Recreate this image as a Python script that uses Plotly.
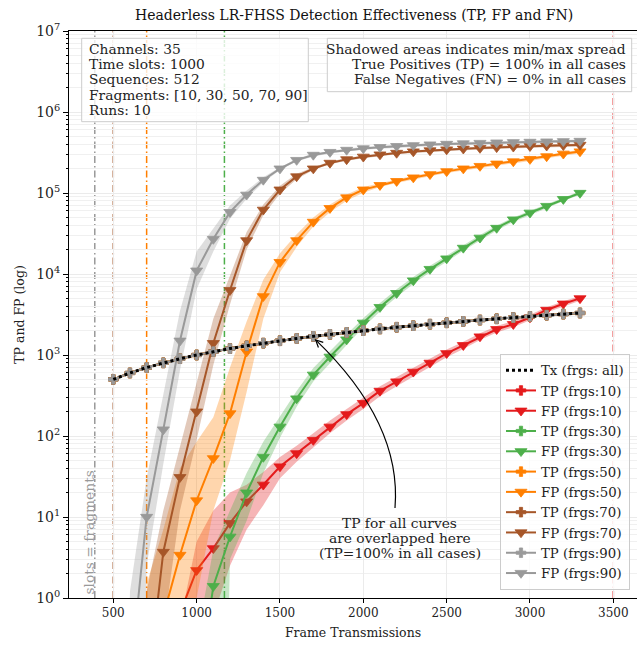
import math
import plotly.graph_objects as go

# ---------------- data ----------------
channels = 35
time_slots = 1000
fragments = [10, 30, 50, 70, 90]

frames = [500, 600, 700, 800, 900, 1000, 1100, 1200, 1300, 1400, 1500, 1600, 1700, 1800, 1900,
          2000, 2100, 2200, 2300, 2400, 2500, 2600, 2700, 2800, 2900, 3000, 3100, 3200, 3300]

# transmitted frames (Tx) == true positives for every fragment count (TP = 100 %)
tx = [500, 600, 700, 800, 900, 1000, 1100, 1200, 1300, 1400, 1500, 1600, 1700, 1800, 1900,
      2000, 2100, 2200, 2300, 2400, 2500, 2600, 2700, 2800, 2900, 3000, 3100, 3200, 3300]

N = None
fp_10 = [N, N, N, N, 0.65, 2.2, 4.1, 8.4, 15.5, 25, 42, 61, 89, 130, 185, 255, 360, 470, 620, 800,
         1050, 1320, 1690, 2080, 2400, 2900, 3600, 4300, 5000]
fp_10_lo = [N, N, N, N, 1e-9, 1e-9, 0.6, 2.5, 7, 14, 30, 48, 72, 108, 155, 215, 310, 410, 545, 710,
            940, 1190, 1530, 1900, 2200, 2680, 3350, 4000, 4680]
fp_10_hi = [N, N, N, N, 0.5, 5, 12, 20, 25, 36, 55, 76, 108, 155, 215, 295, 410, 535, 700, 900,
            1170, 1460, 1860, 2280, 2620, 3150, 3880, 4620, 5350]

fp_30 = [N, N, N, N, N, 0.05, 1.4, 5.7, 20, 55, 130, 290, 570, 950, 1550, 2500, 3900, 5800, 8300,
         11500, 15500, 21000, 28000, 37000, 47000, 57000, 69000, 84000, 100000]
fp_30_lo = [N, N, N, N, N, 1e-9, 1e-9, 3, 9, 35, 95, 230, 470, 800, 1330, 2200, 3450, 5200, 7500,
            10500, 14200, 19400, 26000, 34500, 44000, 53500, 65000, 79500, 95000]
fp_30_hi = [N, N, N, N, N, 0.3, 4, 12, 35, 85, 175, 360, 690, 1130, 1800, 2850, 4400, 6500, 9200,
            12600, 16900, 22700, 30200, 39600, 50000, 60500, 73000, 88500, 105000]

fp_50 = [N, N, N, 0.6, 3.4, 16, 53, 190, 1100, 5300, 14000, 26000, 44000, 65000, 88000, 110000,
         125000, 140000, 155000, 170000, 185000, 200000, 215000, 230000, 245000, 262000, 283000,
         305000, 325000]
fp_50_lo = [N, 1e-9, 1e-9, 1e-9, 1e-9, 1, 12, 50, 350, 2800, 10500, 21500, 38500, 58000, 80000, 101000,
            119000, 133000, 147000, 161000, 176000, 190000, 204000, 218000, 233000, 249000, 269000,
            290000, 309000]
fp_50_hi = [N, 1e-9, 1.5, 7, 40, 85, 170, 700, 2600, 8500, 18000, 31000, 50000, 72000, 96000, 119000,
            131000, 147000, 163000, 179000, 194000, 210000, 226000, 242000, 257000, 275000, 297000,
            320000, 341000]

fp_70 = [N, N, 0.06, 3.7, 31, 200, 1400, 6300, 26000, 62000, 110000, 160000, 200000, 235000, 260000,
         280000, 298000, 312000, 325000, 335000, 344000, 352000, 359000, 366000, 372000, 378000,
         383000, 388000, 392000]
fp_70_lo = [N, 1e-9, 1e-9, 0.4, 12, 90, 750, 4200, 20000, 53000, 98000, 148000, 192000, 226000, 250000,
            269000, 286000, 300000, 312000, 322000, 330000, 338000, 345000, 351000, 357000, 363000,
            368000, 372000, 376000]
fp_70_hi = [N, 1e-9, 1.2, 12, 75, 450, 2800, 9500, 33000, 72000, 123000, 173000, 208000, 244000, 270000,
            291000, 310000, 324000, 338000, 348000, 358000, 366000, 373000, 381000, 387000, 393000,
            398000, 404000, 408000]

fp_90 = [N, 0.1, 10, 120, 1500, 11000, 27000, 58000, 95000, 145000, 200000, 255000, 295000, 320000,
         340000, 355000, 368000, 379000, 388000, 396000, 403000, 409000, 414000, 419000, 423000,
         427000, 431000, 435000, 439000]
fp_90_lo = [1e-9, 1e-9, 2.5, 45, 650, 6500, 19000, 48000, 85000, 135000, 192000, 245000, 283000, 307000,
            326000, 341000, 353000, 364000, 373000, 380000, 387000, 393000, 397000, 402000, 406000,
            410000, 414000, 418000, 421000]
fp_90_hi = [1e-9, 1.2, 30, 320, 3500, 19000, 36000, 70000, 107000, 156000, 208000, 265000, 307000, 333000,
            354000, 369000, 383000, 394000, 403000, 412000, 419000, 425000, 431000, 436000, 440000,
            444000, 448000, 452000, 457000]

colors = ['#e41a1c', '#4daf4a', '#ff7f00', '#a65628', '#999999']
fp_series = [fp_10, fp_30, fp_50, fp_70, fp_90]
lo_series = [fp_10_lo, fp_30_lo, fp_50_lo, fp_70_lo, fp_90_lo]
hi_series = [fp_10_hi, fp_30_hi, fp_50_hi, fp_70_hi, fp_90_hi]

info_lines = ["Channels: 35", "Time slots: 1000", "Sequences: 512",
              "Fragments: [10, 30, 50, 70, 90]", "Runs: 10"]
note_lines = ["Shadowed areas indicates min/max spread",
              "True Positives (TP) = 100% in all cases",
              "False Negatives (FN) = 0% in all cases"]
arrow_lines = ["TP for all curves", "are overlapped here", "(TP=100% in all cases)"]

# ---------------- figure ----------------
FONT = 'DejaVu Serif'
TXT = 13.8
W, H = 637, 647
ML, MR, MT, MB = 69, 0, 31, 49
XR = [234.2, 3642.0]
YR = [0.0, 7.0]


def rgba(hx, a):
    hx = hx.lstrip('#')
    return 'rgba(%d,%d,%d,%.2f)' % (int(hx[0:2], 16), int(hx[2:4], 16), int(hx[4:6], 16), a)


def px2paper(px, py):
    return (px - ML) / (W - ML - MR), (H - MB - py) / (H - MT - MB)


def d2px(x, y):
    px = ML + (x - XR[0]) / (XR[1] - XR[0]) * (W - ML - MR)
    py = (H - MB) - (math.log10(y) - YR[0]) / (YR[1] - YR[0]) * (H - MT - MB)
    return px, py


fig = go.Figure()

rank = 2
for f, col, fp, lo, hi in zip(fragments, colors, fp_series, lo_series, hi_series):
    bx = [x for x, a, b in zip(frames, lo, hi) if a is not None and b is not None]
    blo = [a for a, b in zip(lo, hi) if a is not None and b is not None]
    bhi = [b for a, b in zip(lo, hi) if a is not None and b is not None]
    fig.add_trace(go.Scatter(x=bx + bx[::-1], y=bhi + blo[::-1], fill='toself',
                             fillcolor=rgba(col, 0.32), line=dict(width=0), mode='lines',
                             showlegend=False, hoverinfo='skip'))
    fig.add_trace(go.Scatter(x=frames, y=tx, mode='lines+markers', name='TP (frgs:%d)' % f,
                             line=dict(color=col, width=2),
                             marker=dict(symbol='cross', size=8, color=col,
                                         line=dict(color=col, width=0.8)),
                             legendrank=rank))
    fig.add_trace(go.Scatter(x=frames, y=fp, mode='lines+markers', name='FP (frgs:%d)' % f,
                             line=dict(color=col, width=2),
                             marker=dict(symbol='triangle-down', size=10.5, color=col,
                                         line=dict(color=col, width=0.8)),
                             legendrank=rank + 1))
    rank += 2

fig.add_trace(go.Scatter(x=frames, y=tx, mode='lines', name='Tx (frgs: all)',
                         line=dict(color='black', width=3, dash='dot'), legendrank=1))

shapes = []
for f, col in zip(fragments, colors):
    xv = channels * time_slots / f
    shapes.append(dict(type='line', xref='x', yref='paper', x0=xv, x1=xv, y0=0, y1=1,
                       line=dict(color=col, width=1.5, dash='7px,3px,1.5px,3px'), layer='between'))

# curved arrow (annotation)
tip = d2px(1720, 1720)
tip = (tip[0] - 1, tip[1] + 4)
start = (395, 508)
ctrl = (402, 423)
sx, sy = px2paper(*start)
cx, cy = px2paper(*ctrl)
ex, ey = px2paper(*tip)
shapes.append(dict(type='path', xref='paper', yref='paper',
                   path='M %f,%f Q %f,%f %f,%f' % (sx, sy, cx, cy, ex, ey),
                   line=dict(color='black', width=1.2), layer='above'))
dx, dy = ctrl[0] - tip[0], ctrl[1] - tip[1]
L = math.hypot(dx, dy)
ux, uy = dx / L, dy / L
hl = 8
pts = []
for ang in (0.45, -0.45):
    c, s = math.cos(ang), math.sin(ang)
    rx, ry = ux * c - uy * s, ux * s + uy * c
    pts.append(px2paper(tip[0] + hl * rx, tip[1] + hl * ry))
shapes.append(dict(type='path', xref='paper', yref='paper',
                   path='M %f,%f L %f,%f L %f,%f' % (pts[0][0], pts[0][1], ex, ey, pts[1][0], pts[1][1]),
                   line=dict(color='black', width=1.2), layer='above'))


def box(x0, y0, x1, y1):
    p0 = px2paper(x0, y1)
    p1 = px2paper(x1, y0)
    return dict(type='rect', xref='paper', yref='paper', x0=p0[0], y0=p0[1], x1=p1[0], y1=p1[1],
                fillcolor='rgba(255,255,255,0.8)', line=dict(color='#cccccc', width=1), layer='above')


shapes.append(box(81.7, 38.3, 308.3, 121.7))
shapes.append(box(327.3, 38.3, 631.7, 91.7))

annotations = []


def line_ann(text, px, py, xanchor, color='#222', angle=0):
    x, y = px2paper(px, py)
    return dict(xref='paper', yref='paper', x=x, y=y, xanchor=xanchor, yanchor='middle',
                text=text, showarrow=False, textangle=angle,
                font=dict(family=FONT, size=TXT, color=color))


for i, t in enumerate(info_lines):
    annotations.append(line_ann(t, 86.5, 48.5 + 15.4 * i, 'left'))
for i, t in enumerate(note_lines):
    annotations.append(line_ann(t, 627.5, 48.5 + 15.4 * i, 'right'))
for i, t in enumerate(arrow_lines):
    annotations.append(line_ann(t, 399.5, 522.7 + 15.3 * i, 'center'))
annotations.append(line_ann('slots = fragments', 88, 532.5, 'center', '#999999', -90))

ytick_vals = [1, 10, 100, 1000, 10000, 100000, 1000000, 10000000]
ytick_text = ['10<sup>%d</sup>' % i for i in range(8)]

fig.update_layout(
    width=W, height=H,
    margin=dict(l=ML, r=MR, t=MT, b=MB),
    plot_bgcolor='white', paper_bgcolor='white',
    font=dict(family=FONT, size=12, color='#222'),
    title=dict(text='Headerless LR-FHSS Detection Effectiveness (TP, FP and FN)',
               x=0.502, xref='paper', xanchor='center', y=1 - 15 / H, yref='container',
               yanchor='middle', font=dict(family=FONT, size=14, color='#111')),
    showlegend=True,
    legend=dict(x=px2paper(630, 0)[0], y=px2paper(0, 590)[1], xanchor='right', yanchor='bottom',
                bgcolor='rgba(255,255,255,0.8)', bordercolor='#cccccc', borderwidth=1,
                font=dict(family=FONT, size=13.3, color='#222'), itemwidth=30, tracegroupgap=0),
    shapes=shapes,
    annotations=annotations,
    xaxis=dict(range=XR, tickvals=[500, 1000, 1500, 2000, 2500, 3000, 3500],
               ticks='outside', ticklen=4, tickcolor='black', showline=True, linecolor='black',
               linewidth=1, mirror=True, showgrid=True, gridcolor='#ebebeb', zeroline=False,
               title=dict(text='Frame Transmissions', font=dict(family=FONT, size=12.5), standoff=8),
               tickfont=dict(family=FONT, size=12)),
    yaxis=dict(type='log', range=YR, tickvals=ytick_vals, ticktext=ytick_text,
               ticks='outside', ticklen=5, tickcolor='black', showline=True, linecolor='black',
               linewidth=1, mirror=True, showgrid=True, gridcolor='#ebebeb', zeroline=False,
               minor=dict(dtick='D1', ticks='outside', ticklen=2.5, tickcolor='black',
                          showgrid=True, gridcolor='#f0f0f0'),
               title=dict(text='TP and FP (log)', font=dict(family=FONT, size=12.5), standoff=8),
               tickfont=dict(family=FONT, size=14)),
)

fig.write_html('out.html', config={'displayModeBar': False},
               post_script="document.body.style.margin='0px';")
